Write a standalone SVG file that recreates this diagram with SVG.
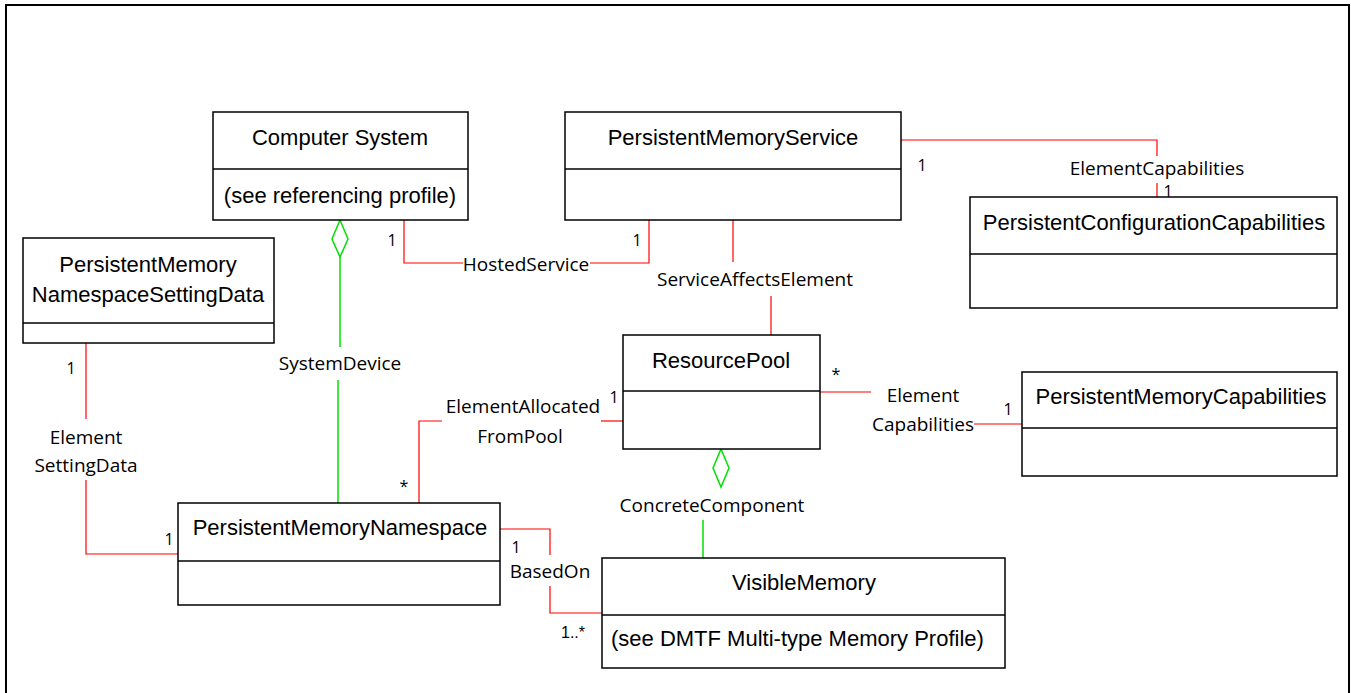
<svg xmlns="http://www.w3.org/2000/svg" width="1351" height="693" viewBox="0 0 1351 693">
<style>
.box{fill:#fff;stroke:#000;stroke-width:1.5}
.dv{stroke:#000;stroke-width:1.5}
.t{font-family:"Liberation Sans",Arial,sans-serif;font-size:22px;fill:#000;text-anchor:middle}
.l{font-family:"Open Sans","Noto Sans",sans-serif;font-size:19px;fill:#000;text-anchor:middle}
.m{font-family:"Open Sans","Noto Sans",sans-serif;font-size:16px;fill:#000;text-anchor:middle}
.r{fill:none;stroke:#ff0000;stroke-width:1.2}
.g{fill:none;stroke:#00e000;stroke-width:1.5}
.frame{fill:none;stroke:#000;stroke-width:2}
</style>
<rect class="frame" x="6" y="5" width="1343" height="700"/>

<g id="connectors">
  <!-- HostedService -->
  <polyline class="r" points="404,220 404,263 463,263"/>
  <polyline class="r" points="590,263 649,263 649,220"/>
  <text class="l" x="526" y="271">HostedService</text>
  <text class="m" x="392" y="246">1</text>
  <text class="m" x="637" y="246">1</text>
  <!-- ElementCapabilities (PMS - PCC) -->
  <polyline class="r" points="901,140 1157,140 1157,156"/>
  <line class="r" x1="1157" y1="183" x2="1157" y2="197"/>
  <text class="l" x="1157" y="175">ElementCapabilities</text>
  <text class="m" x="922" y="171">1</text>
  <text class="m" x="1168" y="197">1</text>
  <!-- ServiceAffectsElement -->
  <line class="r" x1="733" y1="220" x2="733" y2="262"/>
  <line class="r" x1="771" y1="296" x2="771" y2="335"/>
  <text class="l" x="755" y="286">ServiceAffectsElement</text>
  <!-- SystemDevice -->
  <polygon class="g" points="340,220 348,239 340,257 332,239"/>
  <line class="g" x1="340" y1="257" x2="340" y2="347"/>
  <line class="g" x1="338" y1="380" x2="338" y2="503"/>
  <text class="l" x="340" y="370">SystemDevice</text>
  <!-- ElementSettingData -->
  <line class="r" x1="86" y1="343" x2="86" y2="419"/>
  <polyline class="r" points="86,480 86,554 178,554"/>
  <text class="l" x="86" y="444">Element</text>
  <text class="l" x="86" y="472">SettingData</text>
  <text class="m" x="71" y="374">1</text>
  <text class="m" x="169" y="545">1</text>
  <!-- ElementAllocatedFromPool -->
  <polyline class="r" points="419,503 419,421 442,421"/>
  <line class="r" x1="601" y1="421" x2="623" y2="421"/>
  <text class="l" x="523" y="413">ElementAllocated</text>
  <text class="l" x="520" y="443">FromPool</text>
  <text class="m" x="404" y="492">*</text>
  <text class="m" x="614" y="403">1</text>
  <!-- ElementCapabilities (RP - PMC) -->
  <line class="r" x1="820" y1="392" x2="871" y2="392"/>
  <line class="r" x1="974" y1="424" x2="1022" y2="424"/>
  <text class="l" x="923" y="402">Element</text>
  <text class="l" x="923" y="431">Capabilities</text>
  <text class="m" x="836" y="380">*</text>
  <text class="m" x="1008" y="415">1</text>
  <!-- ConcreteComponent -->
  <polygon class="g" points="721,449 729,468 721,487 713,468"/>
  <line class="g" x1="703" y1="520" x2="703" y2="558"/>
  <text class="l" x="712" y="512">ConcreteComponent</text>
  <!-- BasedOn -->
  <polyline class="r" points="500,529 550,529 550,555"/>
  <polyline class="r" points="550,586 550,613 602,613"/>
  <text class="l" x="550" y="578">BasedOn</text>
  <text class="m" x="516" y="553">1</text>
  <text x="573" y="638" style="font-family:'Liberation Sans',Arial,sans-serif;font-size:16px;text-anchor:middle">1..*</text>
</g>

<g id="ComputerSystem">
  <rect class="box" x="213" y="112" width="255" height="108"/>
  <line class="dv" x1="213" y1="169" x2="468" y2="169"/>
  <text class="t" x="340" y="145">Computer System</text>
  <text class="t" x="340" y="203">(see referencing profile)</text>
</g>
<g id="PersistentMemoryService">
  <rect class="box" x="565" y="112" width="336" height="108"/>
  <line class="dv" x1="565" y1="169" x2="901" y2="169"/>
  <text class="t" x="733" y="145">PersistentMemoryService</text>
</g>
<g id="PersistentConfigurationCapabilities">
  <rect class="box" x="970" y="197" width="367" height="111"/>
  <line class="dv" x1="970" y1="254" x2="1337" y2="254"/>
  <text class="t" x="1154" y="230">PersistentConfigurationCapabilities</text>
</g>
<g id="PersistentMemoryNamespaceSettingData">
  <rect class="box" x="23" y="238" width="251" height="105"/>
  <line class="dv" x1="23" y1="323" x2="274" y2="323"/>
  <text class="t" x="148" y="272">PersistentMemory</text>
  <text class="t" x="148" y="302">NamespaceSettingData</text>
</g>
<g id="ResourcePool">
  <rect class="box" x="623" y="335" width="197" height="114"/>
  <line class="dv" x1="623" y1="391" x2="820" y2="391"/>
  <text class="t" x="721" y="368">ResourcePool</text>
</g>
<g id="PersistentMemoryCapabilities">
  <rect class="box" x="1022" y="372" width="315" height="104"/>
  <line class="dv" x1="1022" y1="428" x2="1337" y2="428"/>
  <text class="t" x="1181" y="404">PersistentMemoryCapabilities</text>
</g>
<g id="PersistentMemoryNamespace">
  <rect class="box" x="178" y="503" width="322" height="102"/>
  <line class="dv" x1="178" y1="561" x2="500" y2="561"/>
  <text class="t" x="340" y="535">PersistentMemoryNamespace</text>
</g>
<g id="VisibleMemory">
  <rect class="box" x="602" y="558" width="403" height="110"/>
  <line class="dv" x1="602" y1="615" x2="1005" y2="615"/>
  <text class="t" x="804" y="590">VisibleMemory</text>
  <text class="t" x="611" y="646" style="text-anchor:start">(see DMTF Multi-type Memory Profile)</text>
</g>
</svg>
